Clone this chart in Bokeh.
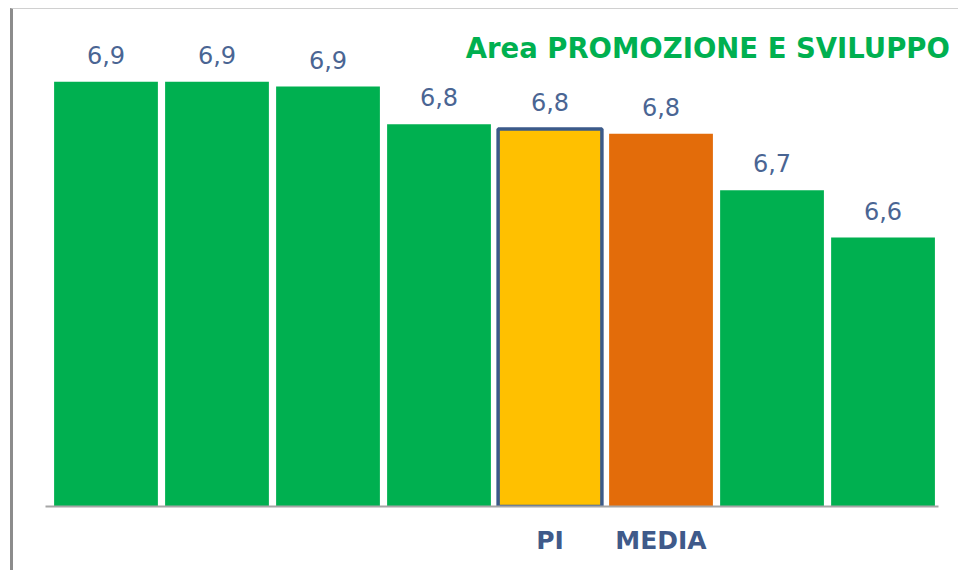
from bokeh.plotting import figure
from bokeh.models import ColumnDataSource, LabelSet, Label, Range1d, FixedTicker
from bokeh.core.properties import value
from bokeh.embed import file_html
from bokeh.resources import INLINE

# ---- data ----
positions = [1, 2, 3, 4, 5, 6, 7, 8]
categories = ["", "", "", "", "PI", "MEDIA", "", ""]
values = [6.90, 6.90, 6.89, 6.81, 6.80, 6.79, 6.67, 6.57]
colors = ["#00B050", "#00B050", "#00B050", "#00B050", "#FFC000", "#E36C0A", "#00B050", "#00B050"]
title_text = "Area PROMOZIONE E SVILUPPO"

labels = [f"{v:.1f}".replace(".", ",") for v in values]
line_w = [0, 0, 0, 0, 3.5, 0, 0, 0]
line_c = ["#00B050", "#00B050", "#00B050", "#00B050", "#3B5A8A", "#E36C0A", "#00B050", "#00B050"]
line_a = [0, 0, 0, 0, 1, 0, 0, 0]

src = ColumnDataSource(dict(x=positions, top=values, color=colors, label=labels,
                            lw=line_w, lc=line_c, la=line_a))

p = figure(width=948, height=562, output_backend="svg", toolbar_location=None,
           x_range=Range1d(0.455, 8.707), y_range=Range1d(6.0, 7.03),
           min_border_left=32, min_border_right=0, min_border_top=11, min_border_bottom=65)

p.vbar(x="x", top="top", bottom=6.0, width=0.935, source=src, fill_color="color",
       line_color="lc", line_width="lw", line_alpha="la")

p.add_layout(LabelSet(x="x", y="top", text="label", source=src, text_align="center",
                      text_baseline="alphabetic", y_offset=18, text_font_size=value("24px"),
                      text_font=value("DejaVu Sans"), text_color=value("#4A6593")))

p.add_layout(Label(x=4.24, y=6.971, text=title_text, text_font="DejaVu Sans",
                   text_font_size="27.5px", text_font_style="bold", text_color="#00B050",
                   text_baseline="alphabetic"))

p.yaxis.visible = False
p.xgrid.visible = False
p.ygrid.visible = False
p.outline_line_color = None

ax = p.xaxis[0]
ax.bounds = (0.455, 8.5)
ax.ticker = FixedTicker(ticks=positions)
ax.major_label_overrides = {pos: lab for pos, lab in zip(positions, categories)}
ax.major_tick_line_color = None
ax.minor_tick_line_color = None
ax.axis_line_color = "#A6A6A6"
ax.axis_line_width = 2
ax.major_label_standoff = 13
ax.major_label_text_font = "DejaVu Sans"
ax.major_label_text_font_style = "bold"
ax.major_label_text_font_size = "25px"
ax.major_label_text_color = "#3F5A8A"

p.styles = {"margin-left": "10px", "margin-top": "8px",
            "border-left": "3px solid #8C8C8C", "border-top": "1px solid #D0D0D0"}

open("out.html", "w").write(file_html(p, INLINE))
